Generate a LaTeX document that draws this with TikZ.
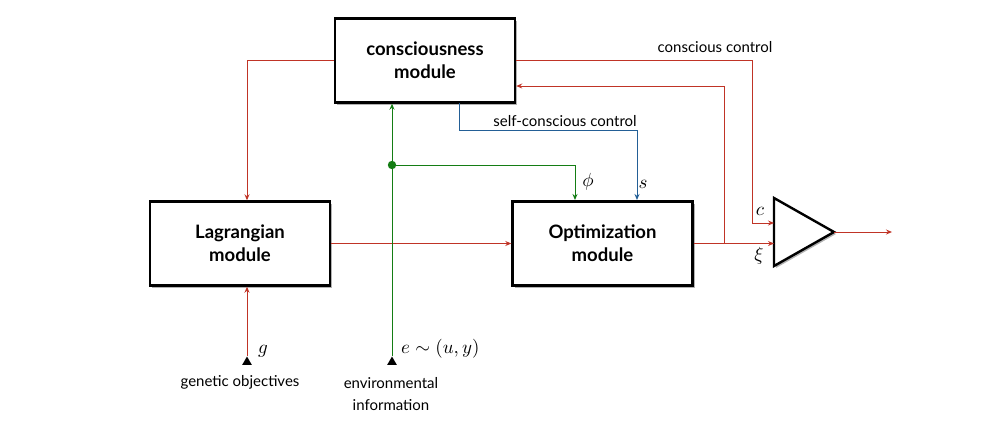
\documentclass[tikz,border=0pt]{standalone}
\usepackage{fontspec}
\setmainfont{Lato}
\usetikzlibrary{arrows.meta,shadows,shapes.geometric,calc}
\definecolor{cred}{RGB}{192,52,38}
\definecolor{cgreen}{RGB}{20,125,20}
\definecolor{cblue}{RGB}{35,95,150}
\newcommand{\mylbmath}[1]{\scalebox{1.9}{$#1$}}
\begin{document}
\begin{tikzpicture}[x=1pt,y=-1pt,
  modbox/.style={draw=black,line width=2.4pt,fill=white,minimum width=180pt,minimum height=84pt,
    align=center,font=\fontsize{18.5}{23}\selectfont\bfseries,
    drop shadow={shadow xshift=2pt,shadow yshift=-2pt,opacity=0.3,fill=black}},
  conn/.style={line width=1pt,-{Stealth[length=6pt,width=5pt]}},
  rl/.style={conn,draw=cred},
  gl/.style={conn,draw=cgreen},
  bl/.style={conn,draw=cblue},
  lbl/.style={font=\fontsize{15}{22}\selectfont,align=center,inner sep=0pt},
  mlbl/.style={inner sep=0pt},
  src/.style={regular polygon,regular polygon sides=3,fill=black,minimum size=11pt,inner sep=0pt},
]
\useasboundingbox (0,0) rectangle (1000,426);

\node[modbox] (cons) at (425,60.5) {consciousness\\module};
\node[modbox] (lag) at (240,243.5) {Lagrangian\\module};
\node[modbox] (opt) at (602.5,243.5) {Optimization\\module};

% amplifier
\coordinate (atop) at (774,198);
\coordinate (abot) at (774,266);
\coordinate (aout) at (834,232);
\draw[line width=2.4pt,line join=miter,fill=white,
  drop shadow={shadow xshift=2pt,shadow yshift=-2pt,opacity=0.3,fill=black}] (atop) -- (aout) -- (abot) -- cycle;
\coordinate (ac) at (774,223);
\coordinate (ax) at (774,243.5);
\coordinate (aend) at (892,232);
\coordinate (junc) at (724,243.5);

% sources
\node[src] (gsrc) at (247,362) {};
\node[src] (esrc) at (392,362) {};
\coordinate (dot) at (392,165);

% red connectors
\draw[rl] (cons.west) -| ([xshift=7pt]lag.north);
\draw[rl] (cons.east) -| (752,223) -- (ac);
\draw[rl] (junc) |- (cons.east |- 0,86);
\draw[rl] (lag.east |- 0,243.5) -- (opt.west |- 0,243.5);
\draw[rl] (opt.east |- 0,243.5) -- (ax);
\draw[rl] (aout) -- (aend);
\draw[rl] (gsrc.corner 1) -- (gsrc.corner 1 |- lag.south);

% green
\draw[gl] (esrc.corner 1) -- (esrc.corner 1 |- cons.south);
\draw[gl] (dot) -| (575,200);
\fill[cgreen] (dot) circle (4.2pt);

% blue
\draw[bl] (459,103) |- (637,130) -- (637,200);

% labels
\node[lbl] (lcc) at (715,47) {conscious control};
\node[lbl] (lscc) at (565,121) {self-conscious control};
\node[mlbl] (lphi) at (588,182) {\mylbmath{\phi}};
\node[mlbl] (ls) at (643,184) {\mylbmath{s}};
\node[mlbl] (lc) at (760,211) {\mylbmath{c}};
\node[mlbl] (lxi) at (759,256) {\mylbmath{\xi}};
\node[mlbl] (lg) at (263,351) {\mylbmath{g}};
\node[mlbl,anchor=west] (le) at (401,349) {\mylbmath{e\sim(u,y)}};
\node[lbl] (lgen) at (240,382) {genetic objectives};
\node[lbl] (lenv) at (391,394) {environmental\\information};
\end{tikzpicture}
\end{document}
